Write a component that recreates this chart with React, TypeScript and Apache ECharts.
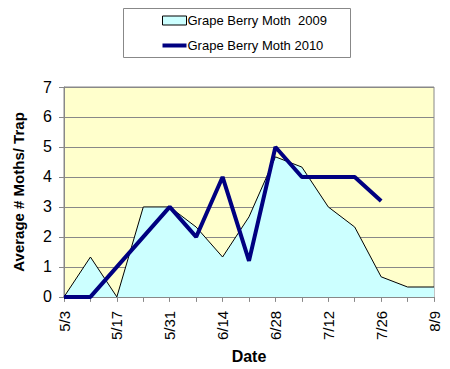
import React, { useEffect, useRef } from "react";
import * as echarts from "echarts";

const dates = ["5/3", "5/10", "5/17", "5/24", "5/31", "6/7", "6/14", "6/21", "6/28", "7/5", "7/12", "7/19", "7/26", "8/2", "8/9"];
const moth2009 = [0, 1.33, 0, 3, 3, 2.33, 1.33, 2.67, 4.67, 4.33, 3, 2.33, 0.67, 0.33, 0.33];
const moth2010 = [0, 0, 1, 2, 3, 2, 4, 1.2, 5, 4, 4, 4, 3.2, null, null];
const yTicks = [0, 1, 2, 3, 4, 5, 6, 7];

const FONT = "Liberation Sans, Arial, sans-serif";

export default function App() {
  const ref = useRef<HTMLDivElement>(null);
  useEffect(() => {
    if (!ref.current) return;
    const chart = echarts.init(ref.current, null, { renderer: "svg" });
    chart.setOption({
      animation: false,
      textStyle: { fontFamily: FONT },
      graphic: [
        {
          type: "rect",
          shape: { x: 123.5, y: 8.5, width: 227, height: 49 },
          style: { fill: "#fff", stroke: "#888", lineWidth: 1 },
          z: 0,
        },
      ],
      legend: {
        orient: "vertical",
        left: 162,
        top: 14,
        itemWidth: 24,
        itemHeight: 9,
        itemGap: 12,
        padding: 0,
        textStyle: { fontSize: 13, fontFamily: FONT, color: "#000", padding: [0, 0, 0, -4] },
        data: [
          {
            name: "Grape Berry Moth  2009",
            icon: "rect",
            itemStyle: { color: "#CCFFFF", borderColor: "#000", borderWidth: 1 },
          },
          {
            name: "Grape Berry Moth 2010",
            icon: "path://M0,0 L24,0 L24,4 L0,4 Z",
            itemStyle: { color: "#000080", borderWidth: 0 },
          },
        ],
        z: 5,
      },
      grid: {
        left: 64,
        right: 16,
        top: 87,
        bottom: 72,
        show: true,
        backgroundColor: "#FFFFCC",
        borderColor: "#888",
        borderWidth: 1,
      },
      xAxis: {
        type: "category",
        data: dates,
        boundaryGap: false,
        name: "Date",
        nameLocation: "middle",
        nameGap: 47,
        nameTextStyle: { fontSize: 16, fontWeight: "bold", color: "#000", fontFamily: FONT },
        axisLine: { lineStyle: { color: "#888" } },
        axisTick: { interval: 0, length: 5, lineStyle: { color: "#888" } },
        axisLabel: { interval: 1, rotate: 90, margin: 14, fontSize: 15, color: "#000", fontFamily: FONT },
        splitLine: { show: false },
      },
      yAxis: {
        type: "value",
        min: 0,
        max: 7,
        interval: 1,
        name: "Average # Moths/ Trap",
        nameLocation: "middle",
        nameGap: 38,
        nameTextStyle: { fontSize: 15, fontWeight: "bold", color: "#000", fontFamily: FONT },
        axisLine: { show: true, lineStyle: { color: "#888" } },
        axisTick: { show: true, length: 5, lineStyle: { color: "#888" } },
        axisLabel: {
          fontSize: 16,
          color: "#000",
          margin: 12,
          fontFamily: FONT,
          formatter: (v: number) => (yTicks.includes(v) ? String(v) : ""),
        },
        splitLine: { lineStyle: { color: "#888", width: 1 } },
      },
      series: [
        {
          name: "Grape Berry Moth  2009",
          type: "line",
          data: moth2009,
          symbol: "none",
          lineStyle: { color: "#000", width: 1 },
          itemStyle: { color: "#CCFFFF" },
          areaStyle: { color: "#CCFFFF", opacity: 1 },
          z: 2,
        },
        {
          name: "Grape Berry Moth 2010",
          type: "line",
          data: moth2010,
          symbol: "none",
          lineStyle: { color: "#000080", width: 4 },
          itemStyle: { color: "#000080" },
          z: 3,
        },
      ],
    });
    return () => chart.dispose();
  }, []);
  return <div ref={ref} style={{ width: 450, height: 369, position: "absolute", left: 0, top: 0 }} />;
}
